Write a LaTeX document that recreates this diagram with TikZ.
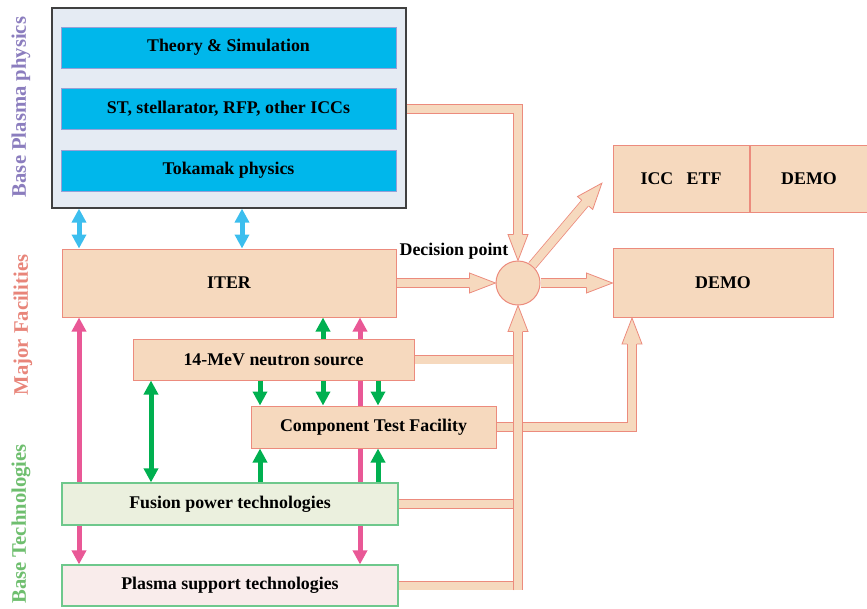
\documentclass[tikz,border=0pt]{standalone}
\usepackage{fontspec}
\setmainfont{Liberation Serif}
\usetikzlibrary{arrows.meta,backgrounds,shapes,positioning,decorations.markings}

\definecolor{plasmabg}{RGB}{229,235,243}
\definecolor{physfill}{RGB}{0,183,235}
\definecolor{physedge}{RGB}{150,160,215}
\definecolor{facfill}{RGB}{246,217,190}
\definecolor{facedge}{RGB}{236,139,125}
\definecolor{fusionfill}{RGB}{235,240,222}
\definecolor{supportfill}{RGB}{249,236,235}
\definecolor{techedge}{RGB}{110,200,140}
\definecolor{lblphys}{RGB}{139,125,190}
\definecolor{lblfac}{RGB}{232,133,122}
\definecolor{lbltech}{RGB}{110,190,110}
\definecolor{arrblue}{RGB}{60,190,238}
\definecolor{arrgreen}{RGB}{0,176,80}
\definecolor{arrpink}{RGB}{233,88,150}

% head of the wide connectors
\newcommand{\fathead}{%
  \fill[facfill] (0,0) -- (-19.5pt,7.5pt) -- (-19.5pt,-7.5pt) -- cycle;
  \draw[facedge, line width=0.6pt] (-19.5pt,3.6pt) -- (-19.5pt,7.5pt) -- (0,0) -- (-19.5pt,-7.5pt) -- (-19.5pt,-3.6pt);}

\tikzset{
  lbl/.style={rotate=90, font=\bfseries\fontsize{15.5}{18}\selectfont},
  blockbox/.style={rectangle, inner sep=0pt, font=\bfseries\fontsize{13.4}{16}\selectfont},
  physbox/.style={blockbox, draw=physedge, fill=physfill, minimum width=251.25pt, minimum height=30.75pt},
  facbox/.style={blockbox, draw=facedge, fill=facfill, line width=0.75pt},
  techbox/.style={blockbox, draw=techedge, line width=0.9pt},
  fatbar/.style={preaction={draw=facedge, line width=7.2pt},
                 preaction={draw=facfill, line width=6pt}},
  fatarrow/.style={preaction={draw=facedge, line width=7.2pt, shorten >=19pt},
                   preaction={draw=facfill, line width=6pt, shorten >=19pt},
                   postaction={decorate, decoration={markings, mark=at position 1 with {\fathead}}}},
  bluearr/.style={draw=arrblue, line width=3.75pt},
  greenarr/.style={draw=arrgreen, line width=3.75pt},
  pinkarr/.style={draw=arrpink, line width=3.75pt}
}

\begin{document}
\begin{tikzpicture}[x=0.75pt, y=-0.75pt, >={Triangle[width=10.5pt,length=10.5pt]}]
        \useasboundingbox (0,0) rectangle (867,608);

        % side labels
        \node[lbl, text=lblphys] (lblphys) at (21,107) {Base Plasma physics};
        \node[lbl, text=lblfac] (lblfac) at (23,325) {Major Facilities};
        \node[lbl, text=lbltech] (lbltech) at (21,524) {Base Technologies};

        % plasma physics
        \node[rectangle, draw=black!75, fill=plasmabg, line width=0.9pt, minimum width=265.5pt, minimum height=150pt] (plasma) at (229,108) {};
        \node[physbox] (theory) at (228.5,47.5) {Theory \& Simulation};
        \node[physbox, below=15pt of theory] (icc) {ST, stellarator, RFP, other ICCs};
        \node[physbox, below=15pt of icc] (tokamak) {Tokamak physics};

        % facilities
        \node[facbox, minimum width=250.5pt, minimum height=51pt] (iter) at (229,283) {ITER};
        \node[facbox, minimum width=210.75pt, minimum height=30.75pt] (neutron) at (273.5,359.5) {14-MeV neutron source};
        \node[facbox, minimum width=183.75pt, minimum height=31.5pt] (ctf) at (373.5,427) {Component Test Facility};

        % technologies
        \node[techbox, fill=fusionfill, minimum width=252pt, minimum height=31.5pt] (fusion) at (230,504) {Fusion power technologies};
        \node[techbox, fill=supportfill, minimum width=252pt, minimum height=30.75pt] (support) at (230,585.5) {Plasma support technologies};

        % decision and next step
        \node[circle, draw=facedge, fill=facfill, line width=0.75pt, minimum size=33pt] (dp) at (518,283) {};
        \node[blockbox] (dplabel) at (454,251) {Decision point};
        \node[facbox, minimum width=165pt, minimum height=51.75pt] (demo) at (723,283) {DEMO};
        \node[facbox, minimum width=102pt, minimum height=50.25pt] (etf) at (681,178.5) {ICC\ \ \ ETF};
        \node[facbox, minimum width=88.5pt, minimum height=50.25pt, right=0pt of etf] (demotwo) {DEMO};

        \coordinate (icctip) at (602,183);
        \coordinate (xl) at (79,0);
        \coordinate (xb) at (242,0);
        \coordinate (xn) at (151,0);
        \coordinate (xg1) at (260,0);
        \coordinate (xg2) at (323,0);
        \coordinate (xg3) at (378,0);
        \coordinate (xp) at (360,0);
        \coordinate (xd) at (632,0);
        \coordinate (busend) at ([yshift=-3.6pt]support.east -| dp.south);

        % wide connectors
        \path[fatarrow] (iter.east) -- (dp.west);
        \path[fatarrow] (dp.east) -- (demo.west);
        \path[fatarrow] (dp.51) -- (icctip);
        \path[fatarrow] (plasma.east |- icc.east) -| (dp.north);
        \path[fatbar] (neutron.east) -- (neutron.east -| dp.south);
        \path[fatbar] (fusion.east) -- (fusion.east -| dp.south);
        \path[fatbar] (support.east) -- (support.east -| dp.south);
        \path[fatarrow] (ctf.east) -| (xd |- demo.south);
        \path[fatarrow] (busend) -- (dp.south);

        % thin connectors
        \draw[bluearr, <->] (xl |- plasma.south) -- (xl |- iter.north);
        \draw[bluearr, <->] (xb |- plasma.south) -- (xb |- iter.north);
        \begin{scope}[on background layer]
          \draw[pinkarr, <->] (xl |- iter.south) -- (xl |- support.north);
          \draw[pinkarr, <->] (xp |- iter.south) -- (xp |- support.north);
          \draw[greenarr, <->] (xg2 |- iter.south) -- (xg2 |- ctf.north);
        \end{scope}
        \draw[greenarr, ->] (xg1 |- neutron.south) -- (xg1 |- ctf.north);
        \draw[greenarr, ->] (xg3 |- neutron.south) -- (xg3 |- ctf.north);
        \draw[greenarr, <->] (xn |- neutron.south) -- (xn |- fusion.north);
        \draw[greenarr, ->] (xg1 |- fusion.north) -- (xg1 |- ctf.south);
        \draw[greenarr, ->] (xg3 |- fusion.north) -- (xg3 |- ctf.south);
\end{tikzpicture}
\end{document}
